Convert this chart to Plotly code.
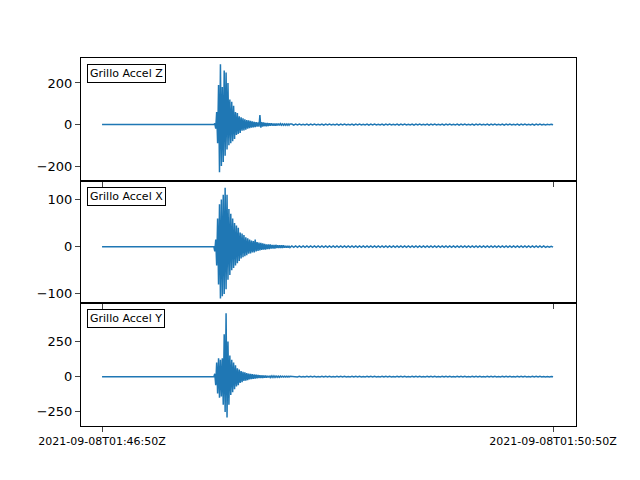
import plotly.graph_objects as go
from plotly.subplots import make_subplots

labels = ["Grillo Accel Z", "Grillo Accel X", "Grillo Accel Y"]
tick_labels = ["2021-09-08T01:46:50Z", "2021-09-08T01:50:50Z"]

# samples every 0.5 s from t=60 s (strong-motion part)
z_main = [5,-20,60,-90,190,-230,290,-200,180,-180,260,-150,250,-120,200,-100,120,-90,110,-80,
          90,-70,60,-50,55,-45,40,-40,35,-30,30,-28,25,-25,22,-20,20,-18,18,-15,
          15,-14,13,-12,12,-10,10,-10,45,-15,12,-10,10,-8,8,-8,8,-7,6,-6,
          6,-5,5,-5,5,-5,4,-4,4,-4,4,-3,3,-3,3,-3,3,-3,3,-3,3]
x_main = [-10,15,-40,60,-80,90,-110,100,-105,110,-100,125,-90,110,-70,80,-60,70,-50,60,
          -45,50,-40,45,-35,40,-30,30,-25,28,-22,25,-20,20,-18,18,-15,15,-14,13,
          -12,12,-12,15,-10,10,-9,9,-8,8,-7,7,-6,6,-6,5,-5,5,-5,5,
          -4,4,-4,4,-4,4,-3,3,-3,3,-3,3,-3,3,-2,2,-2,2,-2,2,-2]
y_main = [20,-60,100,-120,130,-150,120,-140,130,-200,300,-250,450,-290,250,-200,150,-130,120,-110,
          100,-90,80,-70,60,-60,50,-45,40,-40,35,-30,30,-28,25,-25,22,-20,20,-18,
          18,-16,15,-14,14,-12,12,-10,10,-10,9,-9,8,-8,7,-7,6,-6,6,-6,
          5,-5,5,-5,5,-4,4,-4,4,-4,4,-3,3,-3,3,-3,3,-3,3,-3,3]
# samples every 1 s from t=101 s (coda / noise)
z_tail = [2.5,-2.5,2,-2,2,-2,1.5,-1.5] * 17 + [1.5, -1.5, 1, -1]
x_tail = [1.5,-1.5,1.5,-1.5] * 34 + [1, -1, 1, -1]
y_tail = [2.5,-2.5,2,-2,2,-2,1.5,-1.5] * 17 + [1.5, -1.5, 1, -1]
pre_t = [0, 59.5]
pre_v = [0, 0]

def series(main, tail):
    t = pre_t + [60 + 0.5 * i for i in range(len(main))] + [101 + 1 * i for i in range(len(tail))]
    return t, pre_v + main + tail

data = [series(z_main, z_tail), series(x_main, x_tail), series(y_main, y_tail)]
yr = [[-270, 320], [-120, 140], [-350, 520]]
ytv = [[-200, 0, 200], [-100, 0, 100], [-250, 0, 250]]

fig = make_subplots(rows=3, cols=1, shared_xaxes=True, vertical_spacing=0)
for i, (t, v) in enumerate(data):
    r = i + 1
    fig.add_trace(go.Scatter(x=t, y=v, mode="lines", line=dict(color="#1f77b4", width=1.5),
                             showlegend=False), row=r, col=1)
    fig.update_yaxes(range=yr[i], tickvals=ytv[i], row=r, col=1)
    fig.add_annotation(text=labels[i], xref="x domain" if r == 1 else f"x{r} domain",
                       yref="y domain" if r == 1 else f"y{r} domain", x=0.012, y=0.95,
                       xanchor="left", yanchor="top", showarrow=False,
                       font=dict(size=11, color="black"), bordercolor="black", borderwidth=1,
                       borderpad=2, bgcolor="white")

fig.update_xaxes(range=[-11.2, 252.2], showline=True, linecolor="black", linewidth=1, mirror=True,
                 ticks="outside", showgrid=False, zeroline=False, tickvals=[0, 240],
                 ticktext=tick_labels, tickfont=dict(size=11))
fig.update_yaxes(showline=True, linecolor="black", linewidth=1, mirror=True, ticks="outside",
                 showgrid=False, zeroline=False, tickfont=dict(size=13))
fig.update_layout(width=640, height=480, plot_bgcolor="white", paper_bgcolor="white",
                  margin=dict(l=73, r=72, t=50, b=62),
                  font=dict(family="DejaVu Sans", color="black"))
fig.write_html("out.html")
